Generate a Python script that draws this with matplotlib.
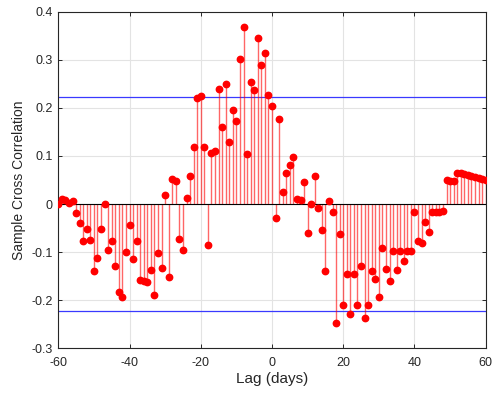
import matplotlib
matplotlib.use("Agg")
import matplotlib.pyplot as plt
import numpy as np

lags = list(range(-60, 61))
xcorr_values = [
    0.000, 0.010, 0.008, 0.003, 0.007, -0.018, -0.039, -0.076, -0.052, -0.075,
    -0.139, -0.113, -0.052, 0.001, -0.095, -0.077, -0.128, -0.182, -0.194, -0.100,
    -0.043, -0.115, -0.076, -0.157, -0.159, -0.161, -0.137, -0.188, -0.101, -0.132,
    0.018, -0.151, 0.052, 0.048, -0.072, -0.095, 0.013, 0.059, 0.119, 0.220,
    0.224, 0.119, -0.086, 0.106, 0.111, 0.240, 0.161, 0.250, 0.129, 0.196,
    0.172, 0.302, 0.369, 0.103, 0.253, 0.237, 0.346, 0.288, 0.313, 0.227,
    0.204,
    -0.029, 0.176, 0.025, 0.064, 0.081, 0.098, 0.010, 0.008, 0.046, -0.061,
    0.000, 0.059, -0.008, -0.053, -0.139, 0.006, -0.017, -0.248, -0.062, -0.209,
    -0.146, -0.229, -0.146, -0.209, -0.129, -0.237, -0.210, -0.139, -0.155, -0.194,
    -0.092, -0.134, -0.159, -0.097, -0.138, -0.097, -0.119, -0.097, -0.097, -0.017,
    -0.077, -0.081, -0.037, -0.059, -0.017, -0.017, -0.017, -0.014, 0.050, 0.047,
    0.047, 0.064, 0.064, 0.062, 0.060, 0.059, 0.057, 0.055, 0.052, 0.051,
]
conf_bound = 0.2215
x_ticks = [-60, -40, -20, 0, 20, 40, 60]
y_ticks = [-0.3, -0.2, -0.1, 0, 0.1, 0.2, 0.3, 0.4]
y_ticklabels = ["-0.3", "-0.2", "-0.1", "0", "0.1", "0.2", "0.3", "0.4"]

plt.rcParams['font.family'] = ['Liberation Sans', 'DejaVu Sans']
plt.rcParams['axes.unicode_minus'] = False

fig = plt.figure(figsize=(4.93, 4.00), dpi=100)
ax = fig.add_axes([0.1183, 0.129, 0.8669, 0.842])

ax.vlines(lags, 0, xcorr_values, colors='red', linewidth=1.0, alpha=0.6, zorder=2)
ax.plot(lags, xcorr_values, 'o', color='red', markersize=4.6, zorder=3)
ax.axhline(0, color='black', linewidth=0.8, zorder=2.5)
ax.axhline(conf_bound, color='#3a3aff', linewidth=0.9, zorder=1.5)
ax.axhline(-conf_bound, color='#3a3aff', linewidth=0.9, zorder=1.5)

ax.set_xlim(-60, 60)
ax.set_ylim(-0.3, 0.4)
ax.set_xticks(x_ticks)
ax.set_yticks(y_ticks)
ax.set_yticklabels(y_ticklabels)
ax.grid(True, color='#e3e3e3', linewidth=0.8, zorder=0)
ax.set_axisbelow(True)

for s in ax.spines.values():
    s.set_color('#262626')
    s.set_linewidth(0.8)
ax.tick_params(direction='in', length=3, width=0.7, colors='#262626',
               labelsize=9, top=True, right=True, pad=4)
ax.tick_params(axis='x', pad=6)

ax.set_xlabel('Lag (days)', fontsize=11, color='#262626', labelpad=2)
ax.set_ylabel('Sample Cross Correlation', fontsize=10, color='#262626', labelpad=4)

fig.savefig('out.png', dpi=100)
